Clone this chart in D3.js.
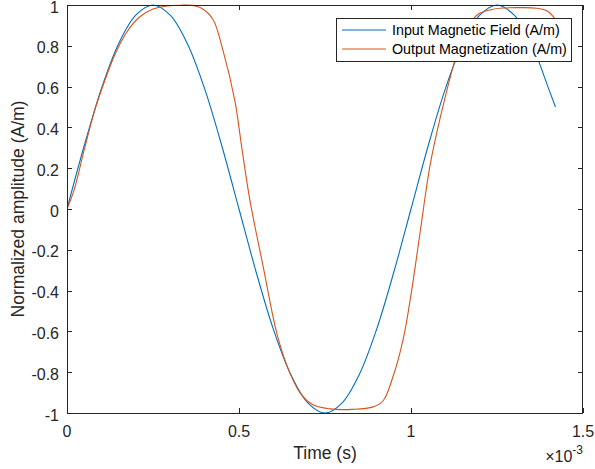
<!DOCTYPE html>
<html>
<head>
<meta charset="utf-8">
<title>Input field vs output magnetization</title>
<script src="https://d3js.org/d3.v7.min.js"></script>
<style>
  body { margin: 0; background: #fff; }
  svg { display: block; font-family: "Liberation Sans", Arial, sans-serif; }
</style>
</head>
<body>
<div id="chart"></div>
<script>
// time in units of 1e-3 s (axis shows the x10^-3 factor)
const inputTime = [0, 0.05, 0.1, 0.15, 0.2, 0.25, 0.3, 0.35, 0.4, 0.45, 0.5,
  0.55, 0.6, 0.65, 0.7, 0.75, 0.8, 0.85, 0.9, 0.95, 1.0,
  1.05, 1.1, 1.15, 1.2, 1.25, 1.3, 1.35, 1.4, 1.42];
const inputField = [0, 0.31, 0.59, 0.81, 0.95, 1.0, 0.95, 0.81, 0.59, 0.31, 0,
  -0.31, -0.59, -0.81, -0.95, -1.0, -0.95, -0.81, -0.59, -0.31, 0,
  0.31, 0.59, 0.81, 0.95, 1.0, 0.95, 0.81, 0.59, 0.5];

const outputTime = [0, 0.02, 0.05, 0.08, 0.11, 0.14, 0.175, 0.21, 0.25, 0.29, 0.33,
  0.365, 0.39, 0.424, 0.453, 0.488, 0.509, 0.532, 0.57, 0.61, 0.64,
  0.677, 0.715, 0.765, 0.83, 0.89, 0.919, 0.948, 0.977, 1.0, 1.026,
  1.055, 1.084, 1.128, 1.16, 1.195, 1.235, 1.267, 1.32, 1.366, 1.395, 1.42];
const outputMag = [0, 0.09, 0.29, 0.48, 0.63, 0.76, 0.87, 0.94, 0.98, 0.995, 0.999,
  0.998, 0.985, 0.93, 0.78, 0.53, 0.29, 0.04, -0.28, -0.61, -0.77,
  -0.9, -0.96, -0.98, -0.982, -0.97, -0.94, -0.82, -0.64, -0.42, -0.12,
  0.21, 0.44, 0.73, 0.88, 0.955, 0.978, 0.985, 0.987, 0.984, 0.972, 0.93];

const xTicks = [0, 0.5, 1, 1.5];
const xTickLabels = ["0", "0.5", "1", "1.5"];
const yTicks = [-1, -0.8, -0.6, -0.4, -0.2, 0, 0.2, 0.4, 0.6, 0.8, 1];
const yTickLabels = ["-1", "-0.8", "-0.6", "-0.4", "-0.2", "0", "0.2", "0.4", "0.6", "0.8", "1"];
const seriesNames = ["Input Magnetic Field (A/m)", "Output Magnetization (A/m)"];
const colors = ["#0072BD", "#D95319"];

const W = 595, H = 469;
const pLeft = 67, pRight = 583, pTop = 5, pBottom = 413;
const axisColor = "#262626";

const svg = d3.select("#chart").append("svg")
  .attr("width", W).attr("height", H);

const x = d3.scaleLinear().domain([0, 1.5]).range([pLeft, pRight]);
const y = d3.scaleLinear().domain([-1, 1]).range([pBottom, pTop]);

const line = d3.line()
  .x(d => x(d[0])).y(d => y(d[1]))
  .curve(d3.curveCatmullRom.alpha(0.5));

svg.append("clipPath").attr("id", "plotclip")
  .append("rect").attr("x", pLeft).attr("y", pTop - 1)
  .attr("width", pRight - pLeft).attr("height", pBottom - pTop + 2);

const plot = svg.append("g").attr("clip-path", "url(#plotclip)");

plot.append("path")
  .datum(d3.zip(inputTime, inputField))
  .attr("d", line)
  .attr("fill", "none").attr("stroke", colors[0]).attr("stroke-width", 1.1);

plot.append("path")
  .datum(d3.zip(outputTime, outputMag))
  .attr("d", line)
  .attr("fill", "none").attr("stroke", colors[1]).attr("stroke-width", 1.1);

// axes box with inward ticks on all sides
const tickLen = 5;
const axes = svg.append("g");
axes.append("rect")
  .attr("x", pLeft + 0.5).attr("y", pTop + 0.5)
  .attr("width", pRight - pLeft - 1).attr("height", pBottom - pTop)
  .attr("fill", "none").attr("stroke", axisColor).attr("stroke-width", 1);

xTicks.forEach((t, i) => {
  const px = Math.round(x(t)) + 0.5;
  axes.append("line").attr("x1", px).attr("x2", px)
    .attr("y1", pBottom).attr("y2", pBottom - tickLen)
    .attr("stroke", axisColor);
  axes.append("line").attr("x1", px).attr("x2", px)
    .attr("y1", pTop).attr("y2", pTop + tickLen)
    .attr("stroke", axisColor);
  axes.append("text")
    .attr("x", x(t)).attr("y", pBottom + 24)
    .attr("text-anchor", "middle")
    .attr("font-size", 16).attr("fill", axisColor)
    .text(xTickLabels[i]);
});

yTicks.forEach((v, i) => {
  const py = Math.round(y(v)) + 0.5;
  axes.append("line").attr("x1", pLeft).attr("x2", pLeft + tickLen)
    .attr("y1", py).attr("y2", py).attr("stroke", axisColor);
  axes.append("line").attr("x1", pRight).attr("x2", pRight - tickLen)
    .attr("y1", py).attr("y2", py).attr("stroke", axisColor);
  axes.append("text")
    .attr("x", pLeft - 8).attr("y", y(v) + 7.5)
    .attr("text-anchor", "end")
    .attr("font-size", 16).attr("fill", axisColor)
    .text(yTickLabels[i]);
});

// exponent label
const expo = axes.append("text")
  .attr("x", pRight).attr("y", 462)
  .attr("text-anchor", "end")
  .attr("font-size", 16).attr("fill", axisColor);
expo.append("tspan").text("\u00d710");
expo.append("tspan").attr("dy", -8).attr("font-size", 12).text("-3");

// axis labels
svg.append("text")
  .attr("x", (pLeft + pRight) / 2).attr("y", 459)
  .attr("text-anchor", "middle")
  .attr("font-size", 17.5).attr("fill", axisColor)
  .text("Time (s)");

svg.append("text")
  .attr("transform", `translate(24,${(pTop + pBottom) / 2}) rotate(-90)`)
  .attr("text-anchor", "middle")
  .attr("font-size", 17.5).attr("fill", axisColor)
  .text("Normalized amplitude (A/m)");

// legend
const legend = svg.append("g");
legend.append("rect")
  .attr("x", 336.5).attr("y", 18.5).attr("width", 235).attr("height", 43)
  .attr("fill", "#fff").attr("stroke", axisColor).attr("stroke-width", 1);

seriesNames.forEach((name, i) => {
  const ly = 30 + i * 19;
  legend.append("line")
    .attr("x1", 342).attr("x2", 386).attr("y1", ly).attr("y2", ly)
    .attr("stroke", colors[i]).attr("stroke-width", 1.1);
  legend.append("text")
    .attr("x", 392).attr("y", ly + 5)
    .attr("font-size", 14.3).attr("fill", "#000")
    .text(name);
});
</script>
</body>
</html>
